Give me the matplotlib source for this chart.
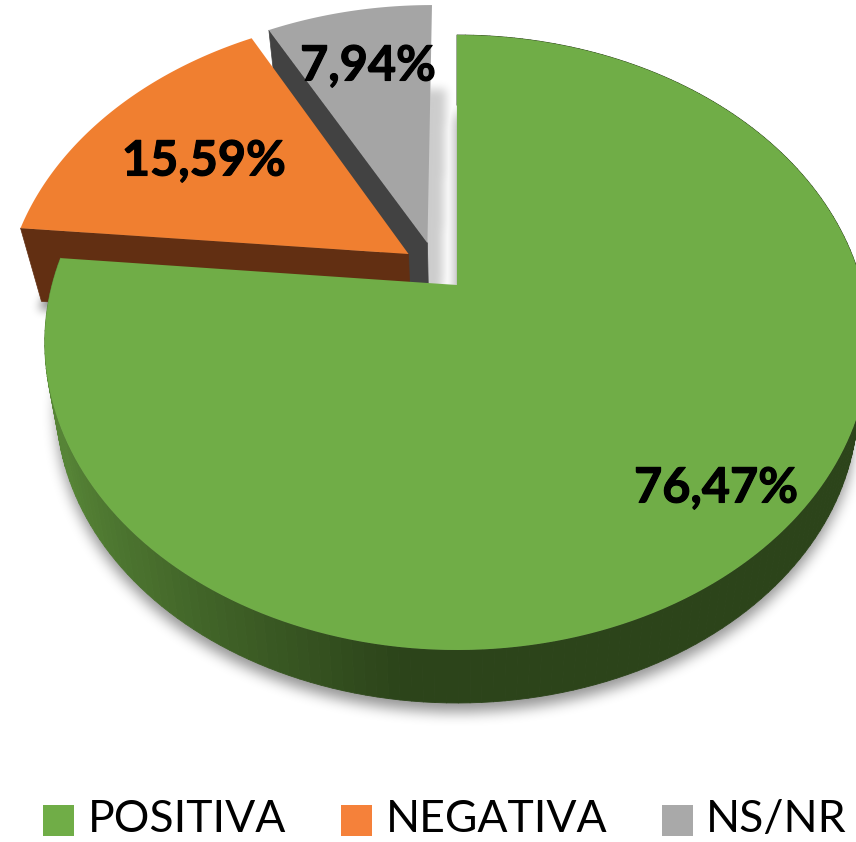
import numpy as np
import matplotlib
matplotlib.use("Agg")
import matplotlib.pyplot as plt
import matplotlib.patheffects as pe
from matplotlib.collections import PolyCollection
from matplotlib.colors import to_rgb
from matplotlib.path import Path

labels = ["POSITIVA", "NEGATIVA", "NS/NR"]
values = [76.47, 15.59, 7.94]
value_text = ["76,47%", "15,59%", "7,94%"]
top_colors = ["#70ad47", "#f07f30", "#a5a5a5"]
cut_colors = ["#2c441a", "#622f12", "#424242"]
legend_colors = ["#70ad47", "#f5813a", "#a9a9a9"]

# explosion of each slice on the pie plane (u, v)
explode_u = [0.0, -0.122, -0.075]
explode_v = [0.0, 0.1065, 0.1454]

# how the lower side of each slice shrinks towards the vanishing point
depth_s = [0.972, 0.952, 0.952]
depth_y = [2542, 1754, 1754]

label_x = [716, 204, 368]
label_y = [488, 161, 66]
legend_box_x = [43, 341, 662]
legend_text_x = [88, 386, 706]

W, H = 856, 842
CX, CY, A, B, K = 457, 285, 405, 296.75, 0.187


def top_xy(u, v):
    w = 1 + K * v
    return CX + A * u / w, CY - B * v / w


def low_xy(x, y, i):
    s, yv = depth_s[i], depth_y[i]
    return CX + s * (x - CX), yv + s * (y - yv)


def slice_xy(i):
    # outline of slice i: apex, then the arc clockwise from 12 o'clock
    start = sum(values[:i]) / 100 * 2 * np.pi
    end = sum(values[:i + 1]) / 100 * 2 * np.pi
    t = np.linspace(start, end, 200)
    u = np.r_[0, np.sin(t)] + explode_u[i]
    v = np.r_[0, np.cos(t)] + explode_v[i]
    return top_xy(u, v)


def blur(a, r):
    for axis in (0, 1):
        for _ in range(3):
            c = np.cumsum(np.insert(a, 0, 0, axis=axis), axis=axis)
            n = a.shape[axis]
            hi = np.minimum(np.arange(n) + r + 1, n)
            lo = np.maximum(np.arange(n) - r, 0)
            a = (np.take(c, hi, axis=axis) - np.take(c, lo, axis=axis)) / (2 * r + 1)
    return a


fig = plt.figure(figsize=(8.56, 8.42), dpi=100)
ax = fig.add_axes([0, 0, 1, 1])

# soft shadows under the lower side of each slice
gx, gy = np.meshgrid(np.arange(W) + 0.5, np.arange(H) + 0.5)
grid = np.c_[gx.ravel(), gy.ravel()]
shadow = np.zeros((H, W))
for i, dx, dy, r, strength in [(0, 0, 9, 6, 0.42), (1, -3, 8, 4, 0.45), (2, 13, 0, 4, 0.2)]:
    x, y = low_xy(*slice_xy(i), i)
    mask = Path(np.c_[x + dx, y + dy]).contains_points(grid).reshape(H, W)
    shadow = np.maximum(shadow, blur(mask.astype(float), r) * strength)
rgba = np.zeros((H, W, 4))
rgba[..., 3] = shadow
ax.imshow(rgba, extent=(0, W, H, 0), aspect="auto", zorder=1)

# back slices first: grey, orange, then the green one in front
for i, z in [(2, 2), (1, 3)]:
    x, y = slice_xy(i)
    lx, ly = low_xy(x, y, i)
    # cut face on the left side of the slice
    ax.fill([x[0], x[1], lx[1], lx[0]], [y[0], y[1], ly[1], ly[0]],
            color=cut_colors[i], lw=0.5, zorder=z)
    ax.fill(x, y, color=top_colors[i], lw=0, zorder=z + 0.1)

# rim of the green slice, shaded from left to right
x, y = slice_xy(0)
lx, ly = low_xy(x, y, 0)
x, y, lx, ly = x[1:], y[1:], lx[1:], ly[1:]
polys = []
colors = []
light, dark = np.array(to_rgb("#568436")), np.array(to_rgb(cut_colors[0]))
for j in range(len(x) - 1):
    polys.append([(x[j], y[j]), (x[j + 1], y[j + 1]), (lx[j + 1], ly[j + 1]), (lx[j], ly[j])])
    f = np.clip((lx[j] - 75) / 330, 0, 1) ** 0.8
    colors.append(light * (1 - f) + dark * f)
ax.add_collection(PolyCollection(polys, facecolors=colors, edgecolors=colors, lw=0.6, zorder=4))

x, y = slice_xy(0)
ax.fill(x, y, color=top_colors[0], lw=0, zorder=5)
ax.plot([x[0], x[1]], [y[0], y[1]], color=cut_colors[0], lw=0.8, zorder=4.9)

for tx, ty, s in zip(label_x, label_y, value_text):
    ax.text(tx, ty, s, family="Lato", fontweight="bold", fontsize=35, color="black",
            ha="center", va="center", zorder=6,
            path_effects=[pe.withStroke(linewidth=0.8, foreground="black")])

# legend
for i, name in enumerate(labels):
    ax.fill([legend_box_x[i], legend_box_x[i] + 31, legend_box_x[i] + 31, legend_box_x[i]],
            [805, 805, 836, 836], color=legend_colors[i], lw=0, zorder=6)
    ax.text(legend_text_x[i], 820, name, family="Lato", fontsize=32,
            color="black", ha="left", va="center", zorder=6)

ax.set_xlim(0, W)
ax.set_ylim(H, 0)
ax.axis("off")
fig.savefig("out.png", dpi=100, facecolor="white")
plt.close(fig)
